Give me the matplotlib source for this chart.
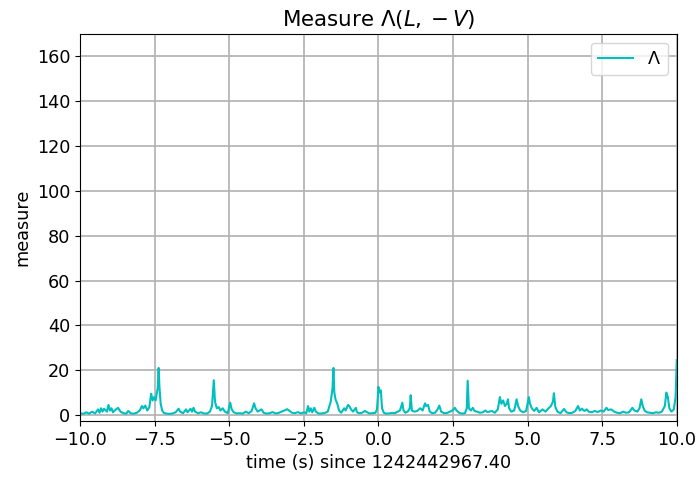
import matplotlib
matplotlib.use("Agg")
import matplotlib.pyplot as plt
import numpy as np

t_rel = [-10.0,-9.9,-9.8,-9.7,-9.6,-9.5,-9.4,-9.35,-9.3,-9.25,-9.2,-9.1,-9.05,-9.0,-8.95,-8.9,-8.8,-8.73,-8.65,-8.55,-8.45,-8.39,-8.3,-8.2,-8.1,-8.0,-7.93,-7.88,-7.82,-7.75,-7.68,-7.62,-7.57,-7.52,-7.47,-7.4,-7.37,-7.34,-7.3,-7.25,-7.2,-7.1,-7.0,-6.9,-6.8,-6.7,-6.65,-6.55,-6.45,-6.4,-6.3,-6.25,-6.2,-6.15,-6.05,-5.95,-5.85,-5.75,-5.65,-5.58,-5.52,-5.48,-5.42,-5.35,-5.3,-5.22,-5.15,-5.05,-4.97,-4.92,-4.85,-4.75,-4.65,-4.55,-4.45,-4.35,-4.25,-4.17,-4.12,-4.05,-3.92,-3.85,-3.75,-3.65,-3.55,-3.45,-3.35,-3.25,-3.12,-3.06,-2.98,-2.9,-2.8,-2.7,-2.6,-2.5,-2.42,-2.36,-2.32,-2.27,-2.22,-2.15,-2.1,-2.0,-1.9,-1.8,-1.7,-1.6,-1.54,-1.51,-1.48,-1.44,-1.38,-1.32,-1.25,-1.15,-1.1,-1.02,-0.97,-0.92,-0.85,-0.76,-0.72,-0.65,-0.55,-0.45,-0.38,-0.3,-0.2,-0.1,-0.05,0.0,0.04,0.08,0.12,0.18,0.25,0.35,0.45,0.55,0.65,0.72,0.8,0.84,0.9,0.98,1.05,1.08,1.12,1.2,1.3,1.4,1.48,1.56,1.6,1.66,1.72,1.8,1.9,1.98,2.04,2.1,2.2,2.3,2.4,2.5,2.56,2.62,2.7,2.8,2.9,2.96,2.99,3.03,3.1,3.16,3.22,3.3,3.4,3.5,3.58,3.65,3.72,3.8,3.9,4.0,4.07,4.12,4.18,4.24,4.3,4.34,4.38,4.45,4.55,4.63,4.68,4.75,4.85,4.95,5.04,5.08,5.14,5.22,5.3,5.38,5.5,5.6,5.7,5.78,5.85,5.88,5.93,6.0,6.1,6.22,6.3,6.4,6.5,6.6,6.69,6.75,6.82,6.9,6.98,7.05,7.15,7.25,7.35,7.45,7.55,7.64,7.7,7.8,7.9,8.0,8.1,8.2,8.3,8.4,8.51,8.58,8.68,8.75,8.81,8.86,8.92,9.0,9.1,9.2,9.3,9.4,9.5,9.6,9.65,9.7,9.75,9.82,9.9,9.96,10.0]

measure = [0.8,0.5,1.2,0.6,1.5,0.7,2.5,1.0,3.0,1.5,2.8,1.5,4.5,2.0,3.0,1.2,2.5,3.2,1.5,0.8,0.6,1.8,0.7,0.6,1.0,2.0,4.0,3.0,4.2,2.0,3.5,9.5,6.5,8.0,6.5,12,21,12,5,2,1,0.6,0.5,0.7,1.2,2.8,1.5,0.8,2.5,1.2,2.8,1.5,3.2,1.5,0.8,1.2,0.7,0.6,1.5,4,15.5,6,3,3.5,2,3,1.5,0.8,5.5,2.5,1.2,0.7,0.8,0.6,1.5,0.8,1.8,5.2,3,1.5,2.5,1.0,0.6,0.8,1.3,0.7,0.9,1.5,2.2,2.6,1.8,1.0,0.8,1.3,0.7,1.2,0.8,4.0,1.5,3.0,1.2,3.2,1.5,0.6,0.7,0.9,1.5,6,12,21,10,7,5,2,1,3,2,4.5,3.8,2.5,1.5,3.2,1.2,0.8,1.0,1.8,1.2,0.7,0.8,1.0,2.5,12.5,10,11,3,1,0.6,0.7,0.9,0.8,1.5,2.0,5.5,2,1,1.5,3,8.8,2,1.5,1.8,3,2,5.2,4,4.5,1.5,0.8,1.0,2.5,4.2,1.5,0.8,0.9,1.5,2.2,3.2,2.0,1.0,0.6,0.8,3,15.3,3,2,3.2,1.8,1.5,1.0,1.2,2,1.3,1.5,1.8,1.0,2.5,8,5,6.5,4,5,7,3,1.5,2,7,4,2,1.2,1.8,8,5,3,1.8,3.2,1.2,2.5,1.5,3,4,6,9.7,3.5,1.5,0.8,2.7,1.2,0.8,1.0,1.8,4,2,2.8,1.8,2.5,1.5,1.2,1.8,1.3,2,1.5,3.2,2.2,2.5,1.5,1.0,0.8,1.5,1.0,1.2,3.2,2,1.5,3,7,4,2,1.2,1.0,0.8,1.2,1.0,1.5,4,10,8,3,1.5,2.5,8,24.5]

fig = plt.figure(figsize=(6.97, 4.79), dpi=100)
ax = fig.add_axes([0.115, 0.121, 0.856, 0.808])
ax.plot(t_rel, measure, color='c', linewidth=1.5, label=r'$\Lambda$')
ax.set_xlim(-10, 10)
ax.set_ylim(-2.7, 170)
ax.grid(True, color='#b0b0b0', linewidth=1.2)
ax.set_axisbelow(True)
ax.set_title(r'Measure $\Lambda(L, -V)$', fontsize=15.4)
ax.set_xlabel('time (s) since 1242442967.40', fontsize=12.7)
ax.set_ylabel('measure', fontsize=12.7)
ax.tick_params(labelsize=12.7)
ax.legend(loc='upper right', fontsize=12.7)
fig.savefig('out.png', dpi=100)
